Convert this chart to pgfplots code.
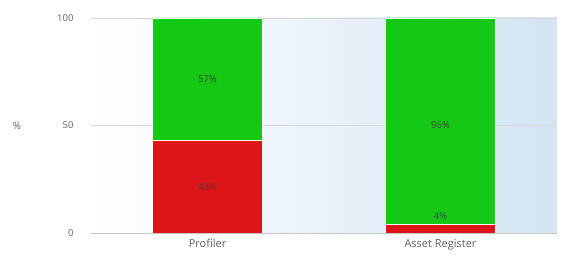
\documentclass[border=0pt]{standalone}
\usepackage{pgfplots}
\pgfplotsset{compat=1.18}
\usepackage{fontspec}
\setmainfont{Open Sans}
\definecolor{barG}{RGB}{22,200,22}
\definecolor{barR}{RGB}{220,22,22}
\definecolor{bgB}{RGB}{212,228,243}
\definecolor{txtG}{RGB}{95,95,95}
\begin{document}
\begin{tikzpicture}[x=1pt,y=1pt]
\useasboundingbox (-91,-31) rectangle (470,233);
\begin{axis}[
 at={(0,0)}, anchor=south west,
 scale only axis, width=466pt, height=215pt,
 xmin=-0.5, xmax=1.5, ymin=0, ymax=100,
 ybar stacked, bar width=110pt,
 axis x line*=bottom, axis y line*=left,
 y axis line style={draw=none},
 x axis line style={draw=gray!45},
 axis background/.style={left color=white, right color=bgB},
 ytick={0,50,100}, ymajorgrids, grid style={draw=gray!30},
 y tick style={draw=none},
 yticklabel style={font=\fontsize{9.5}{10}\selectfont, text=txtG, xshift=-14pt},
 /pgf/number format/assume math mode=true,
 xtick={0,1}, xticklabels={Profiler, Asset Register},
 x tick style={draw=none},
 xticklabel style={font=\fontsize{11}{12}\selectfont, text=txtG, yshift=-3pt},
 extra x ticks={-0.5,0.5,1.5}, extra x tick labels={},
 extra x tick style={grid=none, tick align=outside, major tick length=8pt, tick style={draw=gray!45}},
 ylabel={\%}, ylabel style={at={(axis description cs:0,0.5)}, rotate=-90, anchor=center, xshift=-74pt, font=\fontsize{10}{11}\selectfont, text=txtG},
]
\addplot[fill=barR, draw=white, line width=0.6pt] coordinates {(0,43) (1,4)};
\addplot[fill=barG, draw=white, line width=0.6pt] coordinates {(0,57) (1,96)};
\coordinate (l1) at (axis cs:0,71.5);
\coordinate (l2) at (axis cs:0,21.5);
\coordinate (l3) at (axis cs:1,50);
\coordinate (l4) at (axis cs:1,8);
\end{axis}
\begin{scope}[every node/.style={font=\fontsize{9.5}{10}\selectfont, text=black!75}]
\node at (l1) {57\%};
\node at (l2) {43\%};
\node at (l3) {96\%};
\node at (l4) {4\%};
\end{scope}
\end{tikzpicture}
\end{document}
